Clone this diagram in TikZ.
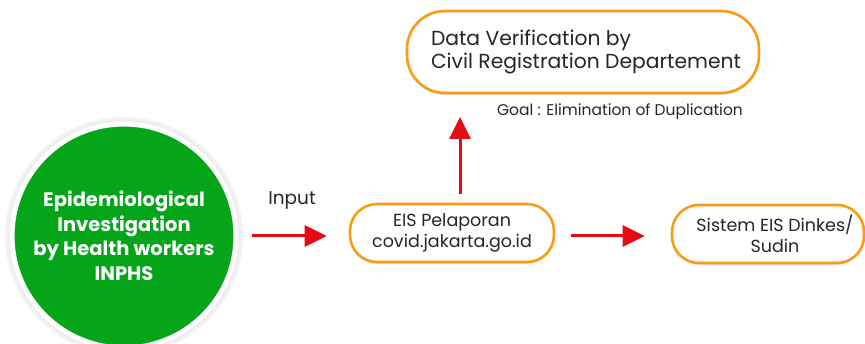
\documentclass[tikz,border=0pt]{standalone}
\usepackage{fontspec}
\setmainfont{Poppins}
\usetikzlibrary{arrows.meta,shadows}
\definecolor{boxorange}{RGB}{250,155,20}
\definecolor{ingreen}{RGB}{5,165,25}
\definecolor{flowred}{RGB}{230,10,20}

\begin{document}
\begin{tikzpicture}
  [x=1pt,y=-1pt,
   pill/.style={draw=boxorange,line width=2.6pt,fill=white,rounded corners=28pt,
     drop shadow={shadow xshift=0pt,shadow yshift=-2pt,opacity=.12,fill=black},
     align=center,font=\fontsize{17.5}{21}\selectfont,text=black!85,inner sep=0pt},
   flow/.style={-{Triangle[length=22pt,width=21pt]},draw=flowred,line width=3pt}]
  \useasboundingbox (0,0) rectangle (865,344);
  \fill[black!5] (124,236) circle (119);
  \fill[black!8] (124,236) circle (116);
  \node (inphs) at (124,236) [circle,fill=ingreen,draw=white,line width=5pt,minimum size=224pt,
    text=white,align=center,font=\bfseries\fontsize{19.5}{24.5}\selectfont] {Epidemiological\\Investigation\\by Health workers\\INPHS};
  \node (eis) at (452,233) [pill,minimum width=204pt,minimum height=58pt,rounded corners=27pt] {EIS Pelaporan\\covid.jakarta.go.id};
  \node (dinkes) at (768,234) [pill,minimum width=192pt,minimum height=58pt,rounded corners=27pt] {\hspace*{14pt}Sistem EIS Dinkes/\\\hspace*{14pt}Sudin};
  \node (verif) at (583,52) [pill,minimum width=352pt,minimum height=82pt,rounded corners=38pt,align=left,
    font=\fontsize{20.3}{23}\selectfont] {\hspace*{6pt}Data Verification by\\\hspace*{6pt}Civil Registration Departement};
  \node (goal) at (620,112) [font=\fontsize{15.5}{18}\selectfont,text=black!85] {Goal : Elimination of Duplication};
  \node (input) at (292,200) [font=\fontsize{18.5}{21}\selectfont,text=black!85] {Input};

  \coordinate (a1) at (252,236);
  \coordinate (a2) at (571,236);
  \coordinate (a3) at (460,194);
  \coordinate (a3end) at (460,117);
  \draw[flow,shorten >=22pt] (a1) -- (a1 -| eis.west);
  \draw[flow,shorten >=26pt] (a2) -- (a2 -| dinkes.west);
  \draw[flow] (a3) -- (a3end);
\end{tikzpicture}
\end{document}
